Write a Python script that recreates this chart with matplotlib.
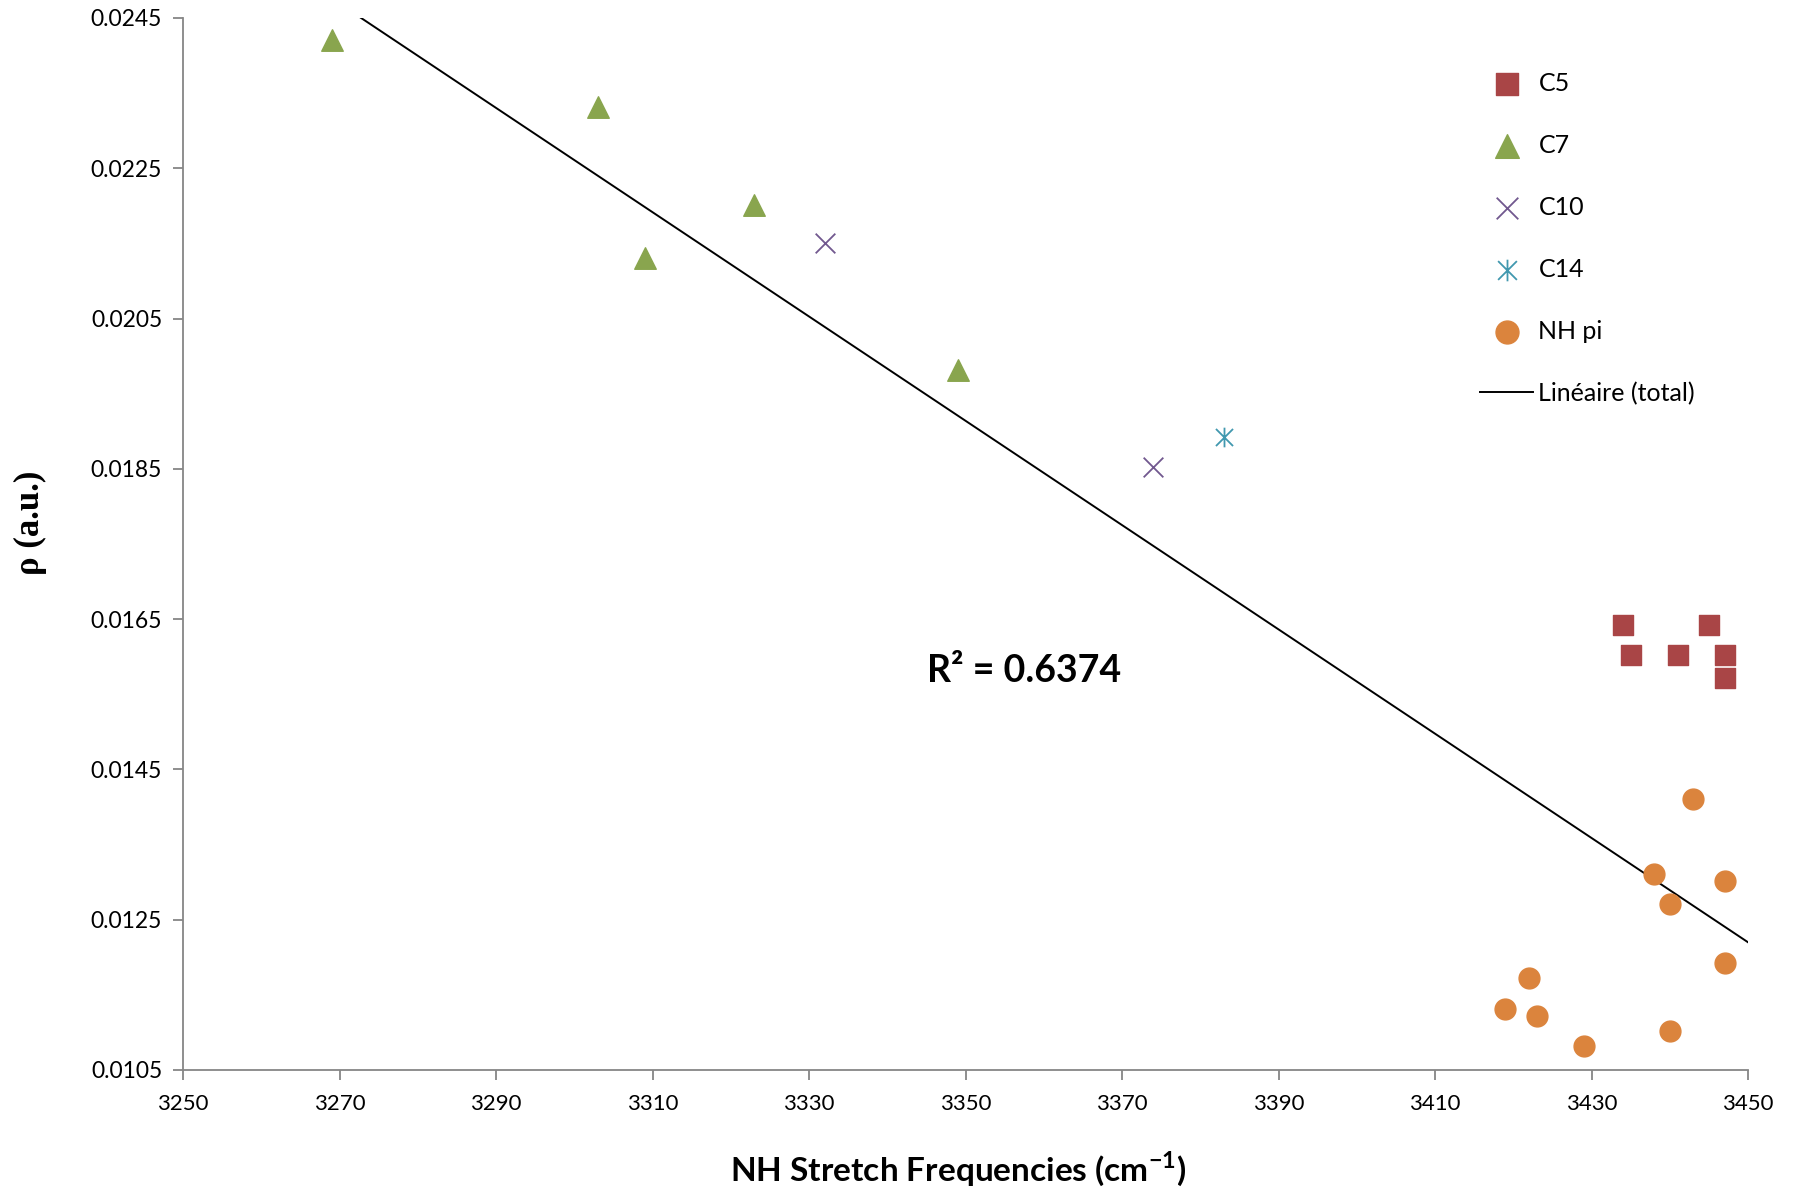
import numpy as np
import matplotlib
matplotlib.use('Agg')
import matplotlib.pyplot as plt
from matplotlib.path import Path

# Data
c5_x = [3434, 3445, 3435, 3441, 3447, 3447]
c5_y = [0.01642, 0.01642, 0.01602, 0.01602, 0.01602, 0.01572]

c7_x = [3269, 3303, 3309, 3323, 3349]
c7_y = [0.02421, 0.02331, 0.02131, 0.02201, 0.01982]

c10_x = [3332, 3374]
c10_y = [0.02151, 0.01852]

c14_x = [3383]
c14_y = [0.01892]

nhpi_x = [3443, 3438, 3447, 3440, 3447, 3422, 3419, 3423, 3440, 3429]
nhpi_y = [0.01411, 0.01311, 0.01302, 0.01271, 0.01192, 0.01172, 0.01131, 0.01122, 0.01102, 0.01082]

# linear trendline (total), as shown on the chart
trend_slope = -6.94e-5
trend_intercept = 0.25163
r2_text = 'R² = 0.6374'

x_ticks = np.arange(3250, 3451, 20)
y_ticks = np.arange(0.0105, 0.02451, 0.002)

plt.rcParams['font.family'] = ['Lato', 'DejaVu Sans']
plt.rcParams['mathtext.fontset'] = 'custom'
plt.rcParams['mathtext.rm'] = 'Lato'
plt.rcParams['mathtext.bf'] = 'Lato:bold'

fig = plt.figure(figsize=(17.95, 11.91), dpi=100)
ax = fig.add_axes([183 / 1795, 1 - 1070 / 1191, 1565 / 1795, 1052 / 1191])

# asterisk marker (x with vertical bar)
star_path = Path([(-1, -1), (1, 1), (-1, 1), (1, -1), (0, -1.15), (0, 1.15)],
                 [Path.MOVETO, Path.LINETO, Path.MOVETO, Path.LINETO, Path.MOVETO, Path.LINETO])

ax.scatter(c5_x, c5_y, marker='s', s=225, color='#A94546', label='C5', zorder=3)
ax.scatter(c7_x, c7_y, marker='^', s=240, color='#89A54E', label='C7', zorder=3)
ax.scatter(c10_x, c10_y, marker='x', s=200, color='#71588F', linewidths=1.3, label='C10', zorder=3)
ax.scatter(c14_x, c14_y, marker=star_path, s=200, color='#4198AF', linewidths=1.3, label='C14', zorder=3)
ax.scatter(nhpi_x, nhpi_y, marker='o', s=225, color='#DB843D', label='NH pi', zorder=3)

all_x = c5_x + c7_x + c10_x + c14_x + nhpi_x
xs = np.array([min(all_x), 3450])
ax.plot(xs, trend_slope * xs + trend_intercept, color='black', lw=1.4, label='Linéaire (total)', zorder=2)

ax.text(3357.5, 0.01581, r2_text, fontsize=27, fontweight='bold', ha='center', va='center')

ax.set_xlim(3250, 3450)
ax.set_ylim(0.0105, 0.0245)
ax.set_xticks(x_ticks)
ax.set_yticks(y_ticks)
ax.set_yticklabels(['%.4f' % v for v in y_ticks])

for s in ['top', 'right']:
    ax.spines[s].set_visible(False)
for s in ['left', 'bottom']:
    ax.spines[s].set_color('#868686')
    ax.spines[s].set_linewidth(1.3)
ax.tick_params(axis='both', direction='out', length=7, width=1.3, color='#868686', pad=8)
ax.tick_params(axis='x', labelsize=16, pad=10)
ax.tick_params(axis='y', labelsize=16.5)

ax.set_xlabel(r'NH Stretch Frequencies (cm$^{\mathbf{-1}}$)', fontsize=24, fontweight='bold')
ax.xaxis.set_label_coords(0.495, -0.075)
ax.set_ylabel('ρ (a.u.)', fontsize=25, fontweight='bold', family='Liberation Serif')
ax.yaxis.set_label_coords(-0.087, 0.52)

ax.legend(loc='upper left', bbox_to_anchor=(0.829, 0.949), frameon=False,
          fontsize=18, labelspacing=1.56, handlelength=2.1, handletextpad=0.22,
          borderpad=0, borderaxespad=0, scatterpoints=1, markerscale=1.1)

plt.savefig('out.png', dpi=100)
